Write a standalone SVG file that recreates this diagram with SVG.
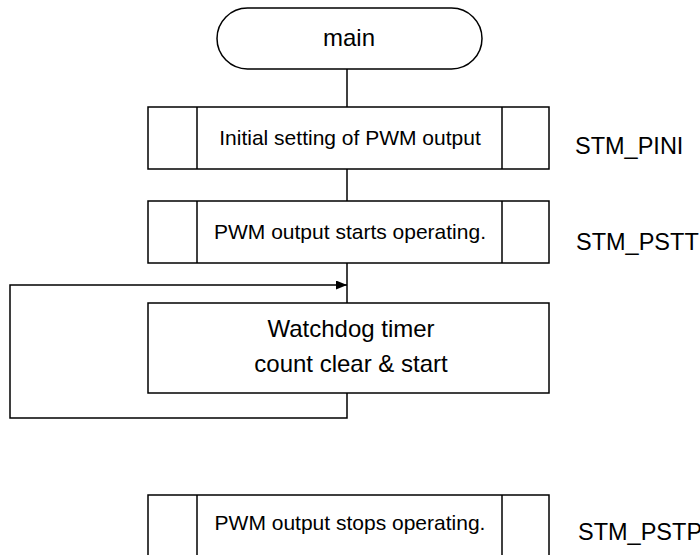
<svg xmlns="http://www.w3.org/2000/svg" width="700" height="555" viewBox="0 0 700 555">
<style>
.s{fill:#fff;stroke:#000;stroke-width:1.5}
.l{fill:none;stroke:#000;stroke-width:1.5}
.t{font-family:"Liberation Sans",Arial,sans-serif;fill:#000;text-anchor:middle}
.lb{font-family:"Liberation Sans",Arial,sans-serif;fill:#000;font-size:23.5px}
</style>
<defs>
<marker id="ah" markerWidth="11" markerHeight="9" refX="11" refY="4.5" orient="auto" markerUnits="userSpaceOnUse">
<path d="M0,0 L11,4.5 L0,9 Z" fill="#000"/>
</marker>
</defs>
<g id="connectors">
<line class="l" x1="347" y1="69" x2="347" y2="107"/>
<line class="l" x1="347" y1="169" x2="347" y2="201"/>
<line class="l" x1="347" y1="263" x2="347" y2="303"/>
<polyline class="l" points="347,393 347,418 10,418 10,285 347,285" marker-end="url(#ah)"/>
</g>
<g id="main">
<rect class="s" x="217" y="8" width="265" height="61" rx="30.5" ry="30.5"/>
<text class="t" x="349" y="46" font-size="24">main</text>
</g>
<g id="stm_pini">
<rect class="s" x="148" y="107" width="401" height="62"/>
<line class="l" x1="197" y1="107" x2="197" y2="169"/>
<line class="l" x1="502" y1="107" x2="502" y2="169"/>
<text class="t" x="350" y="145" font-size="21">Initial setting of PWM output</text>
<text class="lb" x="575" y="154">STM_PINI</text>
</g>
<g id="stm_pstt">
<rect class="s" x="148" y="201" width="401" height="62"/>
<line class="l" x1="197" y1="201" x2="197" y2="263"/>
<line class="l" x1="502" y1="201" x2="502" y2="263"/>
<text class="t" x="350" y="239" font-size="21">PWM output starts operating.</text>
<text class="lb" x="576" y="250">STM_PSTT</text>
</g>
<g id="watchdog">
<rect class="s" x="148" y="303" width="401" height="90"/>
<text class="t" x="351" y="337" font-size="24">Watchdog timer</text>
<text class="t" x="351" y="372" font-size="24">count clear &amp; start</text>
</g>
<g id="stm_pstp">
<rect class="s" x="148" y="495" width="401" height="80"/>
<line class="l" x1="197" y1="495" x2="197" y2="560"/>
<line class="l" x1="502" y1="495" x2="502" y2="560"/>
<text class="t" x="350" y="530" font-size="21">PWM output stops operating.</text>
<text class="lb" x="578" y="540">STM_PSTP</text>
</g>
</svg>
